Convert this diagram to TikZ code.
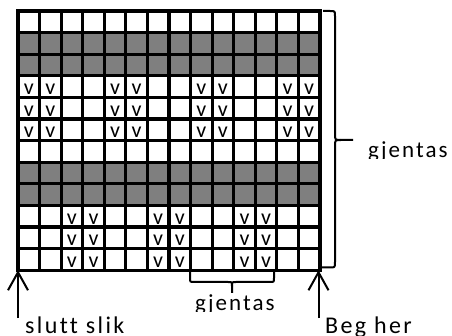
\documentclass[tikz,border=0pt]{standalone}
\usepackage{fontspec}
\setmainfont{Carlito}
\newfontfamily\lblfont[LetterSpace=10,Ligatures=NoCommon]{Carlito}
\newfontfamily\repfont[LetterSpace=9,Ligatures=NoCommon]{Carlito}
\usetikzlibrary{arrows.meta}
\definecolor{cellgray}{HTML}{7F7F7F}
\tikzset{
  gridline/.style={line width=3.2pt, line cap=rect, black},
  vmark/.style={font=\fontsize{22}{22}\selectfont, inner sep=0pt, anchor=base},
  lbl/.style={font=\lblfont\fontsize{24}{24}\selectfont, inner sep=0pt, anchor=base west},
  replbl/.style={font=\repfont\fontsize{23}{23}\selectfont, inner sep=0pt, anchor=base west},
  bracestyle/.style={line width=2pt, black, line join=round},
  arr/.style={line width=2pt, black, -{Straight Barb[length=18pt,width=20pt]}}
}
\begin{document}
\begin{tikzpicture}[x=1pt,y=-1pt]
\useasboundingbox (0,0) rectangle (452,336);
\fill[white] (0,0) rectangle (452,336);
\def\cw{21.57}
\def\ch{21.6}
% grey rows
\foreach \r in {1,2,7,8}
  \fill[cellgray] (18,{11+\r*\ch}) rectangle (320,{11+\r*\ch+\ch});
% v marks, upper block
\foreach \r in {4,5,6}
  \foreach \c in {1,2,5,6,9,10,13,14}
    \node[vmark] (v-\r-\c) at ({18+(\c-0.5)*\cw},{11+\r*\ch-2.6}) {v};
% v marks, lower block
\foreach \r in {10,11,12}
  \foreach \c in {3,4,7,8,11,12}
    \node[vmark] (v-\r-\c) at ({18+(\c-0.5)*\cw},{11+\r*\ch-2.6}) {v};
% grid lines
\foreach \i in {0,...,14}
  \draw[gridline] ({18+\i*\cw},11) -- ({18+\i*\cw},{11+12*\ch});
\foreach \j in {0,...,12}
  \draw[gridline] (18,{11+\j*\ch}) -- (320,{11+\j*\ch});
\coordinate (gbl) at (18,{11+12*\ch});
\coordinate (gbr) at (320,{11+12*\ch});
% right brace
\draw[bracestyle] (323,11) -- (330,11) .. controls (335,11) .. (335,16)
  -- (335,134) .. controls (335,140) .. (341,140) -- (353,140);
\draw[bracestyle] (341,140) .. controls (335,140) .. (335,146)
  -- (335,262) .. controls (335,267.5) .. (330,267.5) -- (321,267.5);
% bottom brace
\draw[bracestyle] (190,272) -- (190,278) .. controls (190,282) .. (194,282)
  -- (228,282) .. controls (232,282) .. (232,286) -- (232,293);
\draw[bracestyle] (232,286) .. controls (232,282) .. (236,282)
  -- (270,282) .. controls (274,282) .. (274,278) -- (274,272);
% arrows
\coordinate (la) at (18,318);
\coordinate (ra) at (318.5,318);
\draw[arr] (la) -- (gbl);
\draw[arr] (ra) -- ([xshift=-1.5pt]gbr);
% labels
\node[lbl] (slutt) at (25,334) {slutt slik};
\node[lbl] (beg) at (325,334) {Beg her};
\begin{scope}
  \clip (355,100) rectangle (452,158.8);
  \node[replbl] (rep1) at (368,158) {gjentas};
\end{scope}
\begin{scope}
  \clip (180,284) rectangle (300,311.6);
  \node[replbl] (rep2) at (195,311) {gjentas};
\end{scope}
\end{tikzpicture}
\end{document}
